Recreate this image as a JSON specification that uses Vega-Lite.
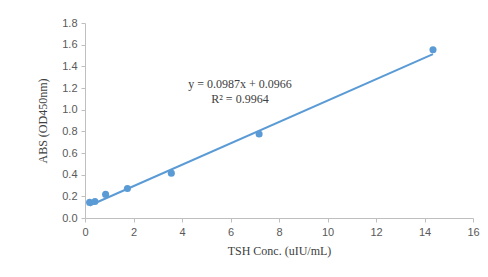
{
  "$schema": "https://vega.github.io/schema/vega-lite/v6.json",
  "autosize": {"type": "none"},
  "width": 388,
  "height": 195,
  "padding": {"left": 85, "top": 23, "right": 15, "bottom": 59},
  "background": "white",
  "config": {
    "view": {"stroke": null},
    "axis": {
      "grid": false,
      "domainColor": "#bfbfbf",
      "tickColor": "#bfbfbf",
      "tickSize": 4,
      "labelColor": "#595959",
      "labelFont": "Liberation Sans",
      "labelFontSize": 11,
      "labelOverlap": false,
      "labelFlush": false,
      "titleFont": "Liberation Serif",
      "titleFontSize": 12,
      "titleFontWeight": "normal",
      "titleColor": "#404040"
    }
  },
  "datasets": {
    "points": [
      {"conc": 0.19, "abs": 0.144},
      {"conc": 0.41, "abs": 0.153},
      {"conc": 0.85, "abs": 0.218},
      {"conc": 1.75, "abs": 0.273},
      {"conc": 3.56, "abs": 0.414},
      {"conc": 7.18, "abs": 0.775},
      {"conc": 14.35, "abs": 1.553}
    ],
    "trend": [
      {"conc": 0.19, "abs": 0.1154},
      {"conc": 14.35, "abs": 1.5129}
    ],
    "labels": [
      {"conc": 6.39, "abs": 1.24, "text": "y = 0.0987x + 0.0966"},
      {"conc": 6.39, "abs": 1.10, "text": "R² = 0.9964"}
    ]
  },
  "encoding": {
    "x": {"field": "conc", "type": "quantitative", "scale": {"domain": [0, 16], "nice": false}, "axis": {"values": [0,2,4,6,8,10,12,14,16], "title": "TSH Conc. (uIU/mL)", "labelPadding": 4, "titlePadding": 8}},
    "y": {"field": "abs", "type": "quantitative", "scale": {"domain": [0, 1.8], "nice": false}, "axis": {"values": [0,0.2,0.4,0.6,0.8,1.0,1.2,1.4,1.6,1.8], "format": ".1f", "title": "ABS (OD450nm)", "labelPadding": 4, "titlePadding": 12}}
  },
  "layer": [
    {
      "data": {"name": "trend"},
      "mark": {"type": "line", "color": "#5b9bd5", "strokeWidth": 2}
    },
    {
      "data": {"name": "points"},
      "mark": {"type": "circle", "color": "#5b9bd5", "opacity": 1, "size": 50}
    },
    {
      "data": {"name": "labels"},
      "mark": {"type": "text", "font": "Liberation Serif", "fontSize": 12, "color": "#404040", "align": "center", "baseline": "middle"},
      "encoding": {
        "text": {"field": "text"}
      }
    }
  ]
}
